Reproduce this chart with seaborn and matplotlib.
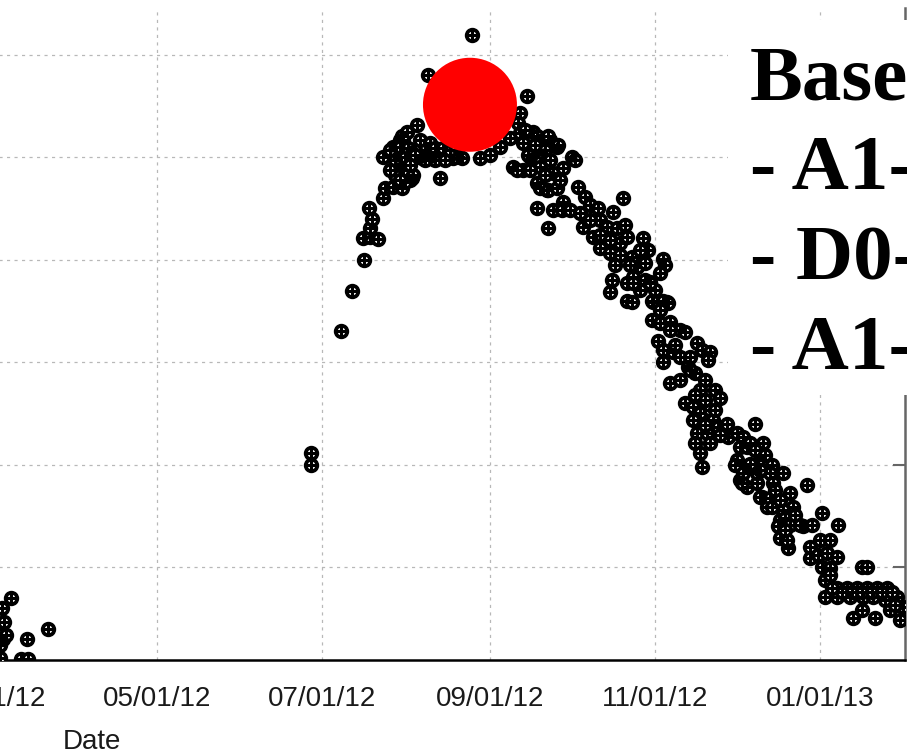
import matplotlib
matplotlib.use("Agg")
import numpy as np
import pandas as pd
import matplotlib.pyplot as plt
import matplotlib.dates as mdates
from matplotlib.patches import Rectangle
import seaborn as sns

# ---- data: day offsets from 2012-01-01 and measured values ----
early_days = [58, 60, 62.3, 63, 63, 63.7, 64.1, 64.5, 65.2, 67.1, 70.8, 73, 73.3, 80.7, 177.9, 177.9]
early_vals = [55, 30, 40, 24, 11, 60, 30, 46, 34, 70, 10, 30, 10, 40, 211, 200]

rise_days = [189, 193.1, 197.5, 197.2, 199.8, 202.7, 199.8, 200.5, 199.4, 204.6, 205.3, 208.2, 211.6,
             214.5, 215.3, 225.6, 204.6, 209.7, 210.1, 212, 208.2, 210.8, 211.6, 217.1, 218.2, 221.9,
             224.5, 209, 214.5, 220.1, 227.5, 233, 221.2, 237.5, 213.4, 212, 218.2, 221.9, 223.8,
             226.7, 230.4, 233.8, 219, 222.7, 212.7, 210.8, 215.6, 212.7, 240.4, 244.1,
             207.1, 209, 213.8, 216.4, 220.1, 223.8, 227.5, 229.3, 231.2, 214.5, 207.1, 210.8]
rise_vals = [330, 369, 400, 421, 422, 420, 431, 440, 450, 460, 470, 471, 470,
             478, 480, 480, 500, 500, 490, 487, 510, 517, 521, 531, 500, 500,
             504, 482, 507, 512, 502, 500, 580, 619, 524, 517, 517, 514, 509,
             509, 499, 499, 499, 499, 500, 510, 482, 476, 499, 502,
             507, 497, 509, 502, 497, 497, 497, 507, 512, 492, 487, 478]

peak_days = [257.8, 255.2, 254.5, 247.8, 251.5, 255.2, 260, 262.6, 266.3, 268.9, 252.6, 256.3,
             262.6, 261.5, 265.2, 267.4, 254.1, 261.5, 265.5, 269.2, 256.3, 258.9, 263.7, 274.4,
             275.5, 271.1, 262.6, 265.5, 268.9, 261.5, 267.4, 271.1, 270.7, 273.7, 265.5, 276.6,
             279.2, 281.1, 284, 277.4, 278.5, 284.8, 287.3, 291, 282.2, 284.8, 288.5, 292.2, 294.7,
             296.6, 300.7, 302.5, 298.4, 301.4, 303.2, 308, 308.8, 306.9, 297, 294.7, 289.2, 288.5,
             294.7, 304.3, 309.5, 293.3, 289.6,
             257, 260.7, 264.4, 258.9, 264.4, 270, 266.3, 258.2,
             281.1, 284.8, 288.5, 292.2, 295.8, 299.5, 290.3, 294, 301.4, 305.1, 299.5]
peak_vals = [560, 543, 533, 510, 519, 523, 524, 519, 517, 510, 490, 487,
             490, 475, 468, 484, 487, 521, 521, 512, 514, 500, 504, 500,
             497, 489, 470, 468, 470, 450, 448, 456, 448, 448, 431, 471,
             461, 453, 450, 445, 432, 439, 432, 431, 422, 411, 406, 416, 422,
             402, 421, 409, 393, 397, 378, 401, 395, 387, 383, 377, 380, 368,
             360, 359, 359, 460, 446,
             526, 512, 507, 487, 482, 478, 497, 502,
             439, 424, 419, 404, 395, 409, 395, 434, 380, 370, 370]

fall_days = [297, 303.2, 296.6, 304, 308, 309.9, 304, 306.9, 310.6, 314.3, 316.2, 306.2, 308, 308,
             311.7, 314.3, 318, 320.6, 322.5, 325.4, 324.7, 310.6, 314.3, 317.3, 319.9, 323.6, 327.3,
             329.1, 316.2, 319.1, 321.7, 325.4, 326.5, 319.1, 320.6, 324.3, 328.4, 331.7, 319.9,
             321.7, 325.4, 322.5, 332.1, 335.4, 337.6, 342, 336.5, 339.1, 345, 335.4, 338.4, 342.8,
             345, 336.5, 339.1, 342.8, 344.6, 346.5,
             306.9, 310.6, 312.5, 318, 321.7, 323.6, 319.9, 327.3, 323.6, 329.1]
fall_vals = [377, 377, 359, 360, 360, 358, 341, 338, 339, 331, 329, 321, 312, 300,
             310, 305, 305, 319, 312, 310, 302, 280, 282, 295, 289, 282, 273,
             265, 260, 256, 250, 253, 243, 243, 231, 231, 237, 240, 221,
             211, 221, 198, 227, 231, 227, 240, 217, 217, 221, 204, 198, 201,
             204, 185, 178, 182, 168, 159,
             351, 331, 317, 292, 273, 263, 268, 253, 239, 229]

tail_days = [340.2, 334.7, 340.2, 348.3, 352.4, 337.6, 342.8, 347.6, 337.2, 348.7, 361.3, 343.9,
             347.6, 355, 356.1, 348.3, 352.4, 351.3, 353.1, 350.5, 355, 359.8, 363.1, 366.8, 372.7,
             351.3, 354.2, 353.9, 362.4, 366.1, 369.8, 362.4, 365.3, 368.7, 372.4, 366.8, 369.8,
             381.6, 383.4, 367.9, 369.8, 372.4, 376.1, 379.7, 383.4, 387.1, 390.8, 367.9, 372.4,
             377.2, 382, 385.7, 390.1, 394.5, 396.7, 378.3, 381.6, 386.4, 392, 395.6,
             342, 345.7, 343.9, 349.4, 351.3, 356.8, 358.7, 353.1,
             374.2, 377.9, 381.6, 385.3, 389, 392.7, 370.5, 393.8]
tail_vals = [221, 200, 201, 200, 192, 192, 192, 192, 182, 182, 180, 168,
             167, 172, 159, 159, 156, 146, 148, 140, 141, 140, 141, 153, 141,
             128, 119, 126, 120, 126, 126, 109, 112, 114, 110, 100, 99,
             100, 100, 87, 92, 80, 80, 80, 80, 80, 80, 71, 71,
             71, 71, 71, 68, 71, 61, 50, 58, 50, 58, 48,
             214, 209, 195, 175, 165, 151, 141, 136,
             76, 76, 76, 76, 76, 76, 80, 63]

highlight_day = 236.7
highlight_val = 551

legend_lines = ["Baseline", "- A1-01", "- D0-01", "- A1-02"]

# ---- assemble ----
origin = pd.Timestamp("2012-01-01")
all_days = early_days + rise_days + peak_days + fall_days + tail_days
all_vals = early_vals + rise_vals + peak_vals + fall_vals + tail_vals
df = pd.DataFrame({"date": origin + pd.to_timedelta(all_days, unit="D"), "value": all_vals})

sns.set_style("white")
plt.rcParams["font.family"] = ["Liberation Sans", "DejaVu Sans"]

W, H = 907, 753
fig = plt.figure(figsize=(W / 100, H / 100), dpi=100)
ax = fig.add_axes([-721 / W, 93 / H, 1626 / W, 652 / H])

sns.scatterplot(data=df, x="date", y="value", marker="o", s=70, facecolor="white",
                edgecolor="black", linewidth=2.7, ax=ax, zorder=3, legend=False)
sns.scatterplot(data=df, x="date", y="value", marker="+", s=42, color="black",
                linewidth=2.2, ax=ax, zorder=3.1, legend=False)

ax.scatter([origin + pd.Timedelta(days=highlight_day)], [highlight_val], s=4580,
           color="#ff0000", edgecolors="none", zorder=5)

ax.set_xlim(origin + pd.Timedelta(days=-203.5), origin + pd.Timedelta(days=397.5))
ax.set_ylim(9.3, 645.4)

major = mdates.MonthLocator(bymonth=[1, 3, 5, 7, 9, 11])
ax.xaxis.set_major_locator(major)
ax.xaxis.set_major_formatter(mdates.DateFormatter("%m/%d/%y"))
lo, hi = ax.get_xlim()
mlocs = list(major.tick_values(mdates.num2date(lo), mdates.num2date(hi)))
minor = []
for a, b in zip(mlocs[:-1], mlocs[1:]):
    minor.extend(np.linspace(a, b, 7)[1:-1])
ax.xaxis.set_minor_locator(matplotlib.ticker.FixedLocator(minor))
ax.set_yticks([100, 200, 300, 400, 500, 600])

ax.set_axisbelow(True)
ax.grid(True, which="major", color="#b8b8b8", linestyle=(0, (2.5, 3.5)), linewidth=0.9)

ax.tick_params(axis="x", which="major", direction="in", length=9, width=1.3,
               labelsize=20, pad=19, colors="black", labelcolor="#1a1a1a", top=False)
ax.tick_params(axis="x", which="minor", direction="in", length=5, width=1.3, top=False)
ax.tick_params(axis="y", which="major", direction="in", length=9, width=1.5,
               right=True, left=True, colors="#666666")
ax.set_xlabel("Date", fontsize=20, labelpad=12, color="#1a1a1a")
ax.set_ylabel("")

for side in ["bottom", "left"]:
    ax.spines[side].set_color("black")
    ax.spines[side].set_linewidth(1.8)
ax.spines["right"].set_color("#666666")
ax.spines["right"].set_linewidth(1.8)
ax.spines["top"].set_visible(False)

# legend panel with large serif labels
fig.add_artist(Rectangle((728 / W, (H - 395) / H), (W - 728) / W + 0.02, (395 - 20) / H,
                         transform=fig.transFigure, facecolor="white", edgecolor="none", zorder=4))
baselines = [100, 190, 279, 370]
for txt, yb in zip(legend_lines, baselines):
    fig.text(750 / W, (H - yb) / H, txt, fontsize=57, fontweight="bold",
             family=["Liberation Serif", "DejaVu Serif"], va="baseline", ha="left",
             color="black", zorder=6)

fig.savefig("out.png", dpi=100)
